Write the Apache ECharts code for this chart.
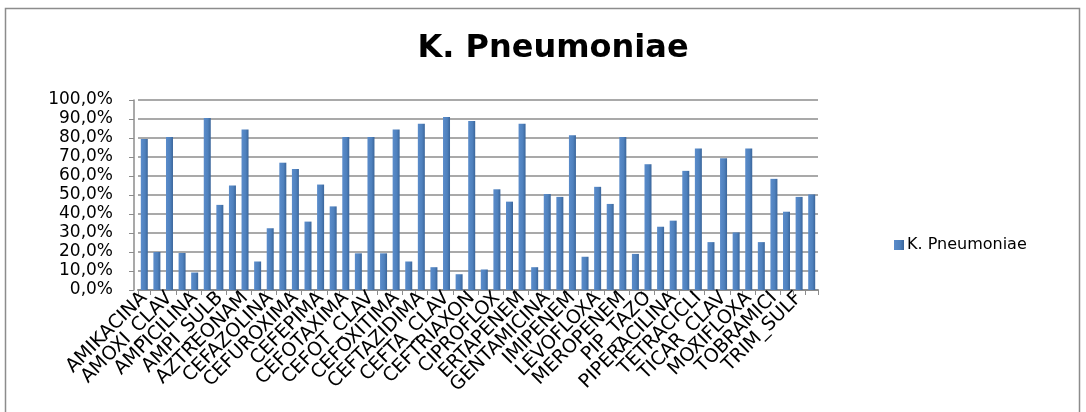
<!DOCTYPE html>
<html>
<head>
<meta charset="utf-8">
<script src="https://cdn.jsdelivr.net/npm/echarts@6/dist/echarts.min.js"></script>
<style>
html,body{margin:0;padding:0;background:#fff;}
#chart{width:1086px;height:412px;}
</style>
</head>
<body>
<div id="chart"></div>
<script>
// Drug names (each drug has two bars; only the first of each pair is labelled)
const drugs = ['AMIKACINA','AMOXI_CLAV','AMPICILINA','AMPI_SULB','AZTREONAM','CEFAZOLINA','CEFUROXIMA','CEFEPIMA','CEFOTAXIMA','CEFOT_CLAV','CEFOXITIMA','CEFTAZIDIMA','CEFTA_CLAV','CEFTRIAXON','CIPROFLOX','ERTAPENEM','GENTAMICINA','IMIPENEM','LEVOFLOXA','MEROPENEM','PIP_TAZO','PIPERACILINA','TETRACICLI','TICAR_CLAV','MOXIFLOXA','TOBRAMICI','TRIM_SULF'];
// Bar values (%), in order left to right
const values = [
  79.5, 20.0, 80.5, 19.5, 9.2, 90.5, 44.8, 55.0, 84.5, 15.0,
  32.5, 67.0, 63.7, 36.0, 55.5, 44.0, 80.5, 19.3, 80.5, 19.3,
  84.5, 15.0, 87.5, 12.0, 91.0, 8.3, 89.0, 10.8, 53.0, 46.5,
  87.5, 12.0, 50.5, 49.0, 81.5, 17.5, 54.3, 45.3, 80.5, 19.0,
  66.2, 33.3, 36.5, 62.7, 74.5, 25.2, 69.3, 30.3, 74.5, 25.2,
  58.5, 41.2, 49.0, 50.3
];
const yTicks = [0,10,20,30,40,50,60,70,80,90,100];
const seriesName = 'K. Pneumoniae';

const categories = [];
drugs.forEach(function(d){ categories.push(d); categories.push(''); });

const chart = echarts.init(document.getElementById('chart'), null, {renderer:'canvas'});
chart.setOption({
  animation:false,
  backgroundColor:'#fff',
  title:{
    text:'K. Pneumoniae',
    left:548, top:28, textAlign:'center',
    textStyle:{fontFamily:'DejaVu Sans', fontWeight:'bold', fontSize:32, color:'#000'}
  },
  legend:{
    data:[seriesName],
    left:889, top:232,
    itemWidth:10, itemHeight:10, itemGap:5,
    icon:'rect',
    textStyle:{fontFamily:'DejaVu Sans', fontSize:16, color:'#000', padding:[0,0,0,-2]}
  },
  grid:{left:138, right:268, top:100, bottom:122},
  xAxis:{
    type:'category',
    data:categories,
    boundaryGap:true,
    axisLine:{show:true, lineStyle:{color:'#8c8c8c', width:2}},
    axisTick:{show:true, interval:0, length:5, lineStyle:{color:'#8c8c8c'}},
    axisLabel:{interval:0, rotate:45, margin:5, fontFamily:'DejaVu Sans', fontSize:19, color:'#000'},
    splitLine:{show:false}
  },
  yAxis:{
    type:'value',
    min:yTicks[0], max:yTicks[yTicks.length-1], interval:10,
    offset:4,
    axisLine:{show:true, lineStyle:{color:'#8c8c8c', width:1.5}},
    axisTick:{show:true, length:5, lineStyle:{color:'#8c8c8c'}},
    axisLabel:{
      margin:21,
      fontFamily:'DejaVu Sans', fontSize:17, color:'#000',
      formatter:function(v){ return v.toFixed(1).replace('.', ',') + '%'; }
    },
    splitLine:{show:true, lineStyle:{color:'#8c8c8c', width:1.5}}
  },
  series:[{
    name:seriesName,
    type:'bar',
    data:values,
    barWidth:7,
    itemStyle:{
      color:new echarts.graphic.LinearGradient(0,0,1,0,[
        {offset:0, color:'#5a8ccb'},
        {offset:0.6, color:'#4f81bd'},
        {offset:1, color:'#3a659a'}
      ])
    }
  }],
  graphic:[{
    type:'rect',
    shape:{x:5.5, y:8.5, width:1074, height:420},
    style:{fill:'none', stroke:'#8c8c8c', lineWidth:1.5},
    silent:true
  }]
});
</script>
</body>
</html>
